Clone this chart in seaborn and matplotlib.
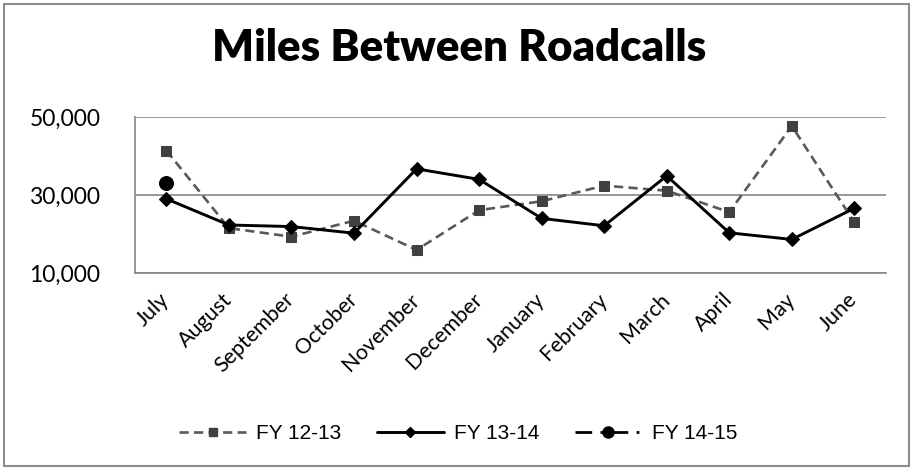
import matplotlib
matplotlib.use("Agg")
import matplotlib.pyplot as plt
import seaborn as sns
import pandas as pd
from matplotlib.lines import Line2D
from matplotlib.patches import Rectangle

months = ["July", "August", "September", "October", "November", "December",
          "January", "February", "March", "April", "May", "June"]
fy1213 = [41400, 21500, 19300, 23400, 15900, 26100, 28400, 32400, 31100, 25600, 47700, 23000]
fy1314 = [29000, 22300, 21900, 20200, 36700, 34000, 24000, 22100, 34900, 20300, 18600, 26600]
fy1415_months = ["July"]
fy1415 = [33100]
yticks = [10000, 30000, 50000]
series_names = ["FY 12-13", "FY 13-14", "FY 14-15"]

sns.set_theme(style="white")
plt.rcParams['font.family'] = ['Lato', 'DejaVu Sans']
plt.rcParams['text.color'] = 'black'
plt.rcParams['xtick.color'] = 'black'
plt.rcParams['ytick.color'] = 'black'
plt.rcParams['xtick.labelcolor'] = 'black'
plt.rcParams['ytick.labelcolor'] = 'black'

fig = plt.figure(figsize=(9.13, 4.69), dpi=100)
ax = fig.add_axes([0.148, 0.418, 0.822, 0.3325])

df1 = pd.DataFrame({"month": months, "value": fy1213})
df2 = pd.DataFrame({"month": months, "value": fy1314})
df3 = pd.DataFrame({"month": fy1415_months, "value": fy1415})

sns.lineplot(data=df1, x="month", y="value", ax=ax, color="#595959",
             linestyle=(0, (3.5, 2)), linewidth=1.9, marker="s", markersize=7.5,
             markerfacecolor="#404040", markeredgecolor="#404040", sort=False, zorder=3)
sns.lineplot(data=df2, x="month", y="value", ax=ax, color="black",
             linewidth=2.1, marker="D", markersize=7.5,
             markerfacecolor="black", markeredgecolor="black", sort=False, zorder=4)
sns.lineplot(data=df3, x="month", y="value", ax=ax, color="black",
             linestyle=(0, (6, 3, 1, 3)), linewidth=2.0, marker="o", markersize=10,
             markerfacecolor="black", markeredgecolor="black", sort=False, zorder=5)

ax.set_xlim(-0.5, 11.5)
ax.set_ylim(10000, 50000)
ax.set_yticks(yticks)
ax.set_yticklabels([f"{v:,}" for v in yticks], fontsize=16.5, color="black")
ax.yaxis.grid(True, color="#868686", linewidth=1.2)
ax.xaxis.grid(False)
ax.set_xlabel("")
ax.set_ylabel("")
ax.tick_params(axis="both", length=0, labelcolor="black")
ax.tick_params(axis="y", pad=25)
for lab in ax.get_xticklabels():
    lab.set_rotation(45)
    lab.set_ha("right")
    lab.set_va("center")
    lab.set_rotation_mode("anchor")
    lab.set_fontsize(15.5)
    lab.set_color("black")
ax.tick_params(axis="x", pad=17)
for s in ["top", "right"]:
    ax.spines[s].set_visible(False)
for s in ["left", "bottom"]:
    ax.spines[s].set_color("#868686")
    ax.spines[s].set_linewidth(1.2)

fig.text(0.503, 0.897, "Miles Between Roadcalls", ha="center", va="center",
         fontsize=31.5, fontweight="heavy", color="black", family=["Lato", "DejaVu Sans"])

handles = [
    Line2D([], [], color="#595959", linestyle=(0, (3.5, 2)), linewidth=1.9, marker="s",
           markersize=6, markerfacecolor="#404040", markeredgecolor="#404040"),
    Line2D([], [], color="black", linewidth=2.1, marker="D", markersize=5),
    Line2D([], [], color="black", linestyle=(0, (6, 3, 1, 3)), linewidth=2.0, marker="o",
           markersize=8),
]
leg = fig.legend(handles, series_names, loc="center", bbox_to_anchor=(0.502, 0.076), ncol=3,
                 frameon=False, handlelength=3.2, columnspacing=1.7, handletextpad=0.5,
                 prop={"family": ["Liberation Sans", "DejaVu Sans"], "size": 15})
for t in leg.get_texts():
    t.set_color("black")

fig.patches.append(Rectangle((0.004, 0.006), 0.992, 0.985, transform=fig.transFigure,
                             fill=False, edgecolor="#8c8c8c", linewidth=1.5))

fig.savefig("out.png", dpi=100)
